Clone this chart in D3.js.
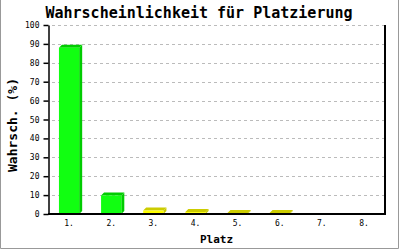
<!DOCTYPE html>
<html><head><meta charset="utf-8">
<script src="https://cdn.jsdelivr.net/npm/d3@7"></script>
<style>html,body{margin:0;padding:0;background:#fff;}svg{display:block;}</style>
</head><body>
<script>
const categories = ["1.","2.","3.","4.","5.","6.","7.","8."];
const values = [88, 9.8, 1.8, 1.0, 0.5, 0.5, 0, 0];
const barColorGroup = ["green","green","yellow","yellow","yellow","yellow","yellow","yellow"];
const yTicks = [0,10,20,30,40,50,60,70,80,90,100];
const title = "Wahrscheinlichkeit für Platzierung";
const xTitle = "Platz";
const yTitle = "Wahrsch. (%)";

(function(){
const W = 400, H = 250;
const palette = {green:{front:"#11ff11", dark:"#00cc00"}, yellow:{front:"#ffff00", dark:"#cccc00"}};
const svg = d3.select("body").append("svg").attr("width",W).attr("height",H);
svg.append("rect").attr("width",W).attr("height",H).attr("fill","#fff");
svg.append("path").attr("d","M0.5,0 V248.5 H398.5 V0").attr("fill","none").attr("stroke","#999").attr("stroke-width",1);

const pL=48, pR=385, pT=25, pB=214;
const x = d3.scaleBand().domain(categories).range([pL,pR]).paddingInner(0.52).paddingOuter(0.26);
const y = d3.scaleLinear().domain([0,100]).range([pB,pT]);
const mono = "'DejaVu Sans Mono', 'Liberation Mono', monospace";

svg.append("g").selectAll("line").data(yTicks.filter(d=>d>0)).join("line")
  .attr("x1",pL+4).attr("x2",pR).attr("y1",d=>Math.round(y(d))+0.5).attr("y2",d=>Math.round(y(d))+0.5)
  .attr("stroke","#bbbbbb").attr("stroke-dasharray","3,3");

const dd = 3;
const bars = svg.append("g").selectAll("g").data(categories.map((c,i)=>({c,v:values[i],g:barColorGroup[i]}))).join("g");
bars.filter(d=>d.v>0).each(function(d){
  const g = d3.select(this);
  const x0 = x(d.c), x1 = x(d.c)+x.bandwidth(), y0 = y(d.v), yb = y(0);
  const col = palette[d.g];
  g.append("polygon").attr("points",[[x1,y0],[x1+dd,y0-dd],[x1+dd,yb-dd],[x1,yb]].join(" ")).attr("fill",col.dark);
  g.append("polygon").attr("points",[[x0,y0],[x0+dd,y0-dd],[x1+dd,y0-dd],[x1,y0]].join(" ")).attr("fill",col.dark);
  g.append("rect").attr("x",x0).attr("y",y0).attr("width",x1-x0).attr("height",yb-y0).attr("fill",col.front);
});

const yAxis = svg.append("g").attr("transform",`translate(${pL+0.5},0)`)
  .call(d3.axisLeft(y).tickValues(yTicks).tickSize(5).tickSizeOuter(0).tickFormat(d3.format("d")));
yAxis.select(".domain").attr("stroke","#000").attr("stroke-width",1.5);
yAxis.selectAll(".tick line").attr("stroke","#000").attr("stroke-width",1.5);
yAxis.selectAll("text").attr("font-family",mono).attr("font-size",8).attr("fill","#000").attr("x",-9);

const xAxis = svg.append("g").attr("transform",`translate(0,${pB})`)
  .call(d3.axisBottom(x).tickSize(0).tickSizeOuter(0));
xAxis.select(".domain").remove();
xAxis.selectAll("text").attr("font-family",mono).attr("font-size",8).attr("fill","#000").attr("dy",0).attr("y",12);
svg.append("line").attr("x1",pL).attr("x2",pR+1).attr("y1",pB).attr("y2",pB).attr("stroke","#000").attr("stroke-width",2);
svg.append("line").attr("x1",pR).attr("x2",pR).attr("y1",pT).attr("y2",pB).attr("stroke","#000").attr("stroke-width",2);

svg.append("text").attr("x",199).attr("y",18).attr("text-anchor","middle").attr("font-family",mono)
  .attr("font-weight","bold").attr("font-size",15).text(title);
svg.append("text").attr("x",(pL+pR)/2).attr("y",243).attr("text-anchor","middle").attr("font-family",mono)
  .attr("font-weight","bold").attr("font-size",11).text(xTitle);
svg.append("text").attr("transform",`translate(17,125) rotate(-90)`).attr("text-anchor","middle").attr("font-family",mono)
  .attr("font-weight","bold").attr("font-size",13).text(yTitle);
})();
</script>
</body></html>
